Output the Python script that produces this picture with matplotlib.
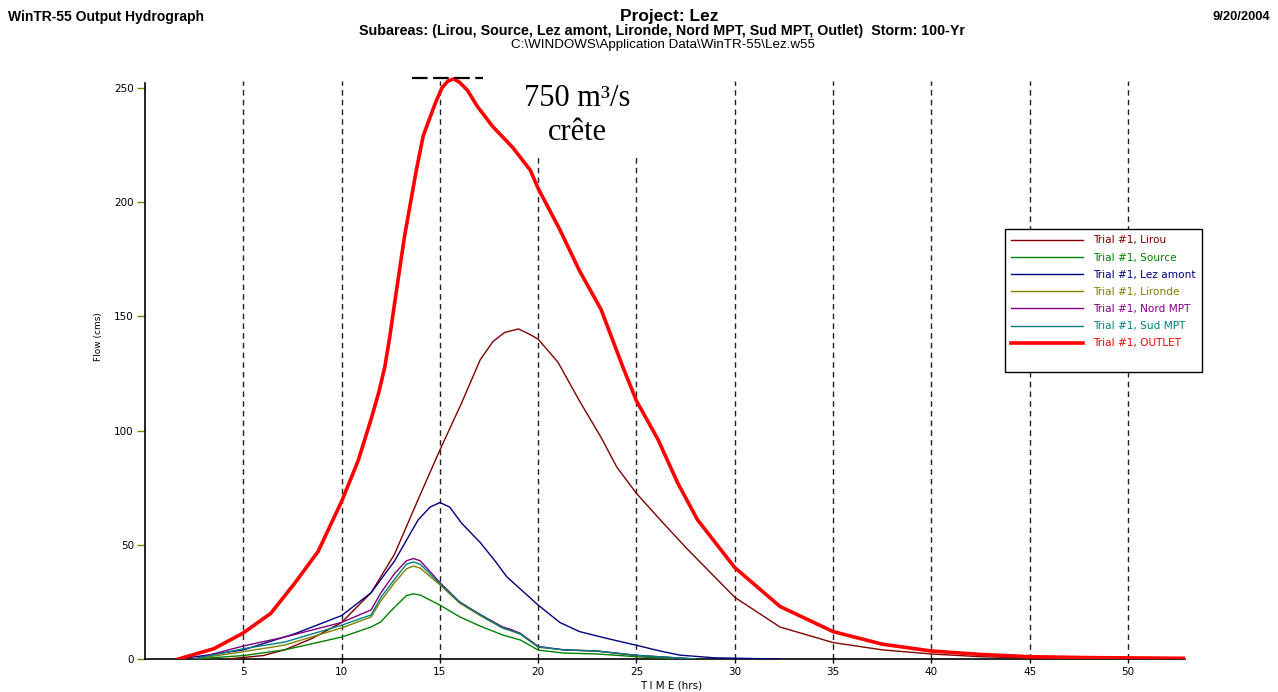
import matplotlib
matplotlib.use("Agg")
import matplotlib.pyplot as plt
from matplotlib.lines import Line2D

# hydrograph readings (time in hrs, flow in cms)
t_lirou = [4.2, 6.0, 7.1, 8.5, 10.0, 11.5, 12.7, 13.9, 15.0, 16.1, 17.05, 17.7,
           18.3, 19.0, 19.6, 20.0, 21.0, 22.1, 23.2, 24.0, 25.0, 26.2, 27.6,
           30.0, 32.3, 35.0, 37.5, 40.0, 42.5, 45.0, 47.4]
q_lirou = [0, 1.5, 4, 9, 16, 29, 46, 70, 91.5, 112, 131, 139,
           143, 144.5, 142, 140, 130, 113, 97, 84, 72.5, 61, 48,
           27, 14, 7.2, 4, 2.2, 1.0, 0.5, 0]

t_small = [2.5, 5.0, 7.1, 10.0, 11.5, 12.0, 12.7, 13.3, 13.65, 14.0, 15.0, 16.0,
           17.05, 18.2, 18.6, 19.1, 20.0, 21.3, 23.0, 25.0, 26.5, 28.0]
q_nord = [0, 5.7, 9.6, 16, 21.5, 29, 37.5, 43, 44, 43, 33.5, 25,
          19.5, 14, 13, 11.2, 5.5, 4, 3.5, 1.6, 0.8, 0]
q_sud = [0, 4.5, 7.4, 14.8, 19.3, 27, 35, 41.5, 42.5, 41.5, 33, 25,
         19.3, 13.6, 12.5, 11, 5.3, 4, 3.5, 1.6, 0.8, 0]
q_lironde = [0, 3.2, 6.1, 13.6, 18.4, 25.5, 33.5, 39.5, 40.7, 39.8, 32.5, 24.5,
             19, 13.5, 12.4, 10.8, 5.2, 4, 3.4, 1.5, 0.7, 0]

t_source = [2.5, 5.0, 7.1, 10.0, 11.5, 12.0, 12.5, 13.3, 13.65, 14.0, 15.0, 16.0,
            17.05, 18.2, 19.1, 20.0, 21.3, 23.0, 25.0, 27.1]
q_source = [0, 1.5, 4, 9.6, 14, 16.3, 21, 27.8, 28.5, 28, 23.6, 18.5,
            14.4, 10.5, 8.3, 3.9, 2.6, 2.2, 1, 0]

t_lez = [1.7, 3.0, 5.0, 7.6, 10.0, 11.5, 12.7, 13.9, 14.5, 15.0, 15.5, 16.1,
         17.05, 17.8, 18.4, 20.0, 21.1, 22.1, 23.5, 25.0, 26.2, 27.2, 29.0, 32.3]
q_lez = [0, 1.5, 4, 11, 19, 29, 43, 61, 66.5, 68.5, 66.5, 59.5,
         51, 43, 36, 23.6, 16, 12, 9, 6, 3.5, 1.7, 0.5, 0]

t_outlet = [1.7, 2.5, 3.5, 5.0, 6.4, 7.6, 8.8, 10.0, 10.85, 11.5, 11.9, 12.2, 12.45,
            12.7, 13.2, 13.8, 14.15, 14.75, 15.1, 15.4, 15.7, 16.0, 16.4, 16.9,
            17.7, 18.7, 19.6, 20.0, 21.1, 22.1, 23.2, 24.3, 25.0, 26.1, 27.1,
            28.1, 30.0, 32.3, 35.0, 37.5, 40.0, 42.5, 45.0, 48.0, 52.9]
q_outlet = [0, 2, 4.5, 11.4, 20, 33, 47, 69, 87, 105, 117, 128, 141,
            156, 185, 214, 229, 243, 250, 253, 254, 252.5, 249, 242,
            233, 224, 214, 206, 188, 170, 153, 128, 113, 96, 77,
            61, 40, 23, 12, 6.5, 3.5, 2, 1, 0.6, 0.3]

series = [
    ("Trial #1, Lirou", t_lirou, q_lirou, "#800000", 1.0),
    ("Trial #1, Source", t_source, q_source, "#008000", 1.0),
    ("Trial #1, Lez amont", t_lez, q_lez, "#000080", 1.0),
    ("Trial #1, Lironde", t_small, q_lironde, "#808000", 1.0),
    ("Trial #1, Nord MPT", t_small, q_nord, "#800080", 1.0),
    ("Trial #1, Sud MPT", t_small, q_sud, "#008080", 1.0),
    ("Trial #1, OUTLET", t_outlet, q_outlet, "#ff0000", 2.6),
]

plt.rcParams["font.family"] = ["DejaVu Sans"]

fig = plt.figure(figsize=(12.78, 6.92), dpi=100)
ax = fig.add_axes([145 / 1278, 33 / 692, 1040 / 1278, (659 - 74.3) / 692])

ax.set_xlim(0, 52.9)
ax.set_ylim(0, 256)

# dashed vertical grid
xt = [5, 10, 15, 20, 25, 30, 35, 40, 45, 50]
ax.vlines(xt, 0, 253, colors="#222222", linestyles=(0, (4, 3)), lw=1.0, zorder=1)

handles = []
for label, t, q, c, lw in series:
    h, = ax.plot(t, q, color=c, lw=lw, label=label, zorder=3,
                 solid_joinstyle="round")
    handles.append(h)

# peak marker
peak = max(q_outlet)
ax.hlines(peak + 0.5, 13.6, 17.2, colors="black", linestyles=(0, (7, 2.5)),
          lw=1.6, zorder=4)
ax.text(22.0, 238, "750 m³/s\ncrête", family="Liberation Serif", fontsize=22,
        ha="center", va="center", linespacing=1.25, zorder=2.5,
        bbox=dict(fc="white", ec="none", pad=8))

for s in ["top", "right"]:
    ax.spines[s].set_visible(False)
ax.spines["left"].set_bounds(0, 252)
ax.spines["left"].set_linewidth(1.2)
ax.spines["bottom"].set_linewidth(1.2)

ax.set_yticks([0, 50, 100, 150, 200, 250])
ax.set_xticks(xt)
ax.tick_params(axis="y", colors="#808000", labelcolor="black", length=6,
               width=1, pad=2, labelsize=7.5)
ax.tick_params(axis="x", length=3, width=1, pad=3, labelsize=7.5)

ax.set_ylabel("Flow (cms)", fontsize=6.5)
ax.yaxis.set_label_coords(-0.040, 0.551)
ax.set_xlabel("T I M E (hrs)", fontsize=7.5)
ax.xaxis.set_label_coords(0.506, -0.036)

blank = Line2D([], [], color="none")
leg = ax.legend(handles=handles + [blank], labels=[s[0] for s in series] + [""],
                loc="upper left", bbox_to_anchor=(0.827, 0.7354),
                borderaxespad=0, fontsize=7.6, handlelength=6.8, labelspacing=0.68,
                fancybox=False, framealpha=1, edgecolor="black",
                labelcolor="linecolor", borderpad=0.6, handletextpad=0.9)
leg.get_frame().set_linewidth(1.0)

# header
fig.text(8 / 1278, 1 - 17 / 692, "WinTR-55 Output Hydrograph", family="Liberation Sans",
         fontweight="bold", fontsize=10, ha="left", va="center")
fig.text(1270 / 1278, 1 - 17 / 692, "9/20/2004", family="Liberation Sans",
         fontweight="bold", fontsize=9.3, ha="right", va="center")
fig.text(669 / 1278, 1 - 17 / 692, "Project: Lez", family="Liberation Sans",
         fontweight="bold", fontsize=12.5, ha="center", va="center")
fig.text(662 / 1278, 1 - 31 / 692,
         "Subareas: (Lirou, Source, Lez amont, Lironde, Nord MPT, Sud MPT, Outlet)  Storm: 100-Yr",
         family="Liberation Sans", fontweight="bold", fontsize=10.3, ha="center", va="center")
fig.text(663 / 1278, 1 - 45 / 692, "C:\\WINDOWS\\Application Data\\WinTR-55\\Lez.w55",
         family="Liberation Sans", fontsize=9.6, ha="center", va="center")

fig.savefig("out.png", dpi=100)
